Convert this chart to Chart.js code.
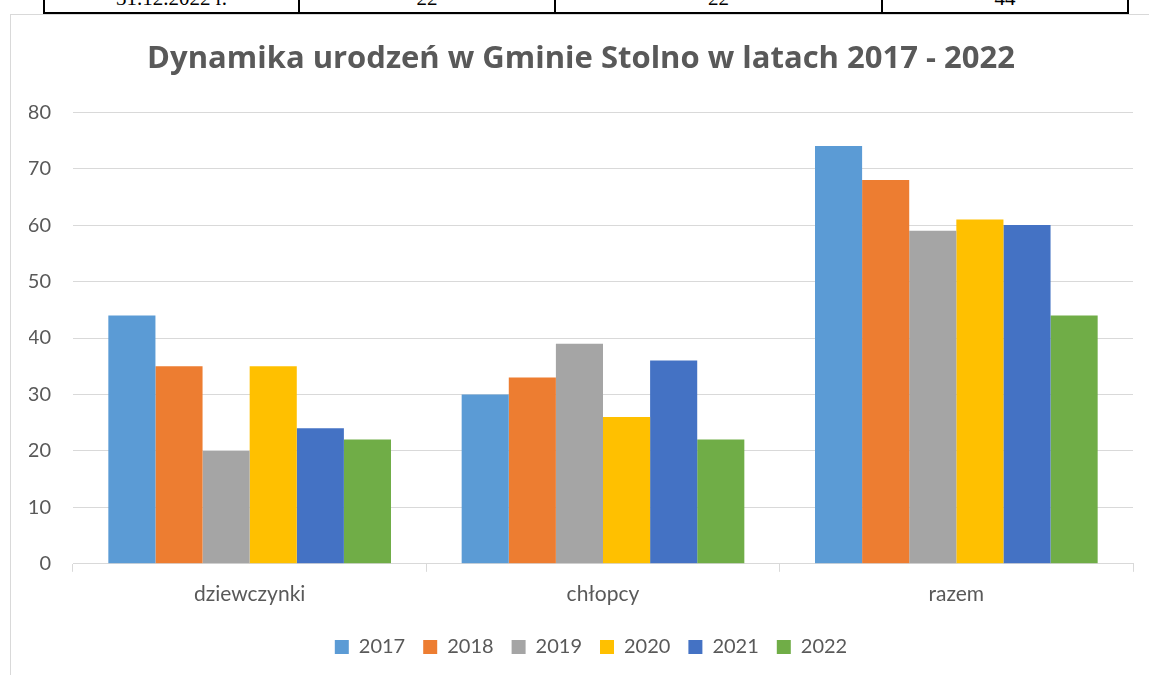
<!DOCTYPE html>
<html lang="pl">
<head>
    <meta charset="UTF-8">
    <title>Dynamika urodzeń w Gminie Stolno</title>
    <script src="https://cdn.jsdelivr.net/npm/chart.js"></script>
    <style>
        body { margin: 0; background: #fff; width: 1149px; height: 675px; overflow: hidden; position: relative; }
        #table-row {
            position: absolute; left: 43px; top: -18px; width: 1086px; height: 32px;
            border: 2px solid #000; border-collapse: collapse;
            font-family: "Liberation Serif", serif; font-size: 21px;
        }
        #table-row td { border: 2px solid #000; text-align: center; vertical-align: bottom; padding: 0 0 1px 0; }
        #chart-box {
            position: absolute; left: 10px; top: 14px; width: 1139px; height: 661px;
            border-left: 1px solid #d9d9d9; border-top: 1px solid #d9d9d9; box-sizing: border-box;
        }
    </style>
</head>
<body>
    <table id="table-row">
        <tr>
            <td style="width:253px">31.12.2022 r.</td>
            <td style="width:254px">22</td>
            <td style="width:325px">22</td>
            <td>44</td>
        </tr>
    </table>
    <div id="chart-box">
        <canvas id="births-chart"></canvas>
    </div>

    <script>
        const categories = ['dziewczynki', 'chłopcy', 'razem'];
        const years = ['2017', '2018', '2019', '2020', '2021', '2022'];
        const colors = ['#5B9BD5', '#ED7D31', '#A5A5A5', '#FFC000', '#4472C4', '#70AD47'];

        // values per year: [dziewczynki, chłopcy, razem]
        const values2017 = [44, 30, 74];
        const values2018 = [35, 33, 68];
        const values2019 = [20, 39, 59];
        const values2020 = [35, 26, 61];
        const values2021 = [24, 36, 60];
        const values2022 = [22, 22, 44];
        const seriesValues = [values2017, values2018, values2019, values2020, values2021, values2022];

        const font = 'Lato, "Open Sans", sans-serif';
        const textColor = '#595959';
        const gridColor = '#d9d9d9';

        // nudge the legend a bit to the right, like in the original
        const legendShift = {
            id: 'legendShift',
            afterLayout(chart) {
                if (chart.legend) {
                    chart.legend.left += 10;
                    chart.legend.right += 10;
                }
            }
        };

        const ctx = document.getElementById('births-chart').getContext('2d');
        new Chart(ctx, {
            type: 'bar',
            data: {
                labels: categories,
                datasets: years.map((year, i) => ({
                    label: year,
                    data: seriesValues[i],
                    backgroundColor: colors[i],
                    borderWidth: 0,
                    categoryPercentage: 0.8,
                    barPercentage: 1.0
                }))
            },
            options: {
                responsive: true,
                maintainAspectRatio: false,
                animation: false,
                layout: { padding: { top: 26, left: 18, right: 16, bottom: 8 } },
                plugins: {
                    title: {
                        display: true,
                        text: 'Dynamika urodzeń w Gminie Stolno w latach 2017 - 2022',
                        color: textColor,
                        font: { family: '"Open Sans", sans-serif', size: 31, weight: 'bold' },
                        padding: { top: 0, bottom: 34 }
                    },
                    legend: {
                        position: 'bottom',
                        labels: {
                            color: textColor,
                            font: { family: font, size: 20 },
                            boxWidth: 14,
                            boxHeight: 14,
                            padding: 18
                        }
                    },
                    tooltip: { enabled: false }
                },
                scales: {
                    x: {
                        grid: {
                            drawOnChartArea: false,
                            drawTicks: true,
                            tickLength: 8,
                            color: gridColor
                        },
                        border: { color: gridColor },
                        ticks: { color: textColor, font: { family: font, size: 21 }, padding: 10 },
                        afterFit: (scale) => { scale.height += 2; }
                    },
                    y: {
                        min: 0,
                        max: 80,
                        ticks: { stepSize: 10, color: textColor, font: { family: font, size: 20 }, padding: 22 },
                        grid: { color: gridColor, drawTicks: false },
                        border: { display: false },
                        afterFit: (scale) => { scale.width = 44; }
                    }
                }
            },
            plugins: [legendShift]
        });
    </script>
</body>
</html>
